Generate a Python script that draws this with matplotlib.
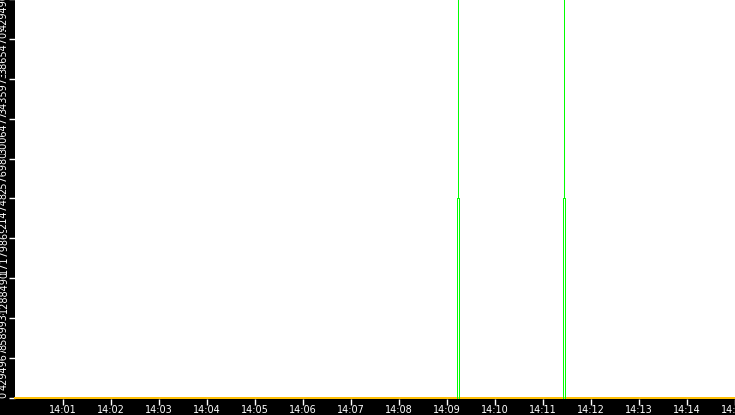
import datetime as dt

import numpy as np
import matplotlib
matplotlib.use('Agg')
import matplotlib.pyplot as plt
import matplotlib.dates as mdates

# candles (hollow green)
times = [dt.datetime(2024, 1, 1, 14, 9, 14), dt.datetime(2024, 1, 1, 14, 11, 26)]
opens = [0, 0]
closes = [2147483648, 2147483648]
highs = [4294967296, 4294967296]
lows = [0, 0]

# orange base line
base_times = [dt.datetime(2024, 1, 1, 14, 0, 0), dt.datetime(2024, 1, 1, 14, 15, 0)]
base_values = [0, 0]

x_ticks = [dt.datetime(2024, 1, 1, 14, m, 0) for m in range(1, 16)]

y_ticks = [0, 429496729.6, 858993459.2, 1288490188.8, 1717986918.4, 2147483648,
           2576980377.6, 3006477107.2, 3435973836.8, 3865470566.4, 4294967296]
y_labels = ['0', '429496729.6', '858993459.2', '1288490188.8', '1717986918.4', '2147483648',
            '2576980377.6', '3006477107.2', '3435973836.8', '3865470566.4', '4294967296']

W, H = 735, 415
fig = plt.figure(figsize=(W / 100, H / 100), dpi=100, facecolor='black')
ax = fig.add_axes([15 / W, 16 / H, 720 / W, 400 / H])
ax.set_facecolor('white')
for s in ax.spines.values():
    s.set_visible(False)

ax.plot(base_times, base_values, color='#ffbf00', lw=1.4, zorder=2, clip_on=False)

x = mdates.date2num(times)
# one pixel = 1/48 minute on this axis
px = 1.25 / 86400.0
lw1 = 0.72  # one pixel at 100 dpi
green = '#00ff00'
for xi, o, c, h, l in zip(x, opens, closes, highs, lows):
    lo, hi = min(o, c), max(o, c)
    ax.plot([xi, xi], [hi, h], color=green, lw=lw1, zorder=3, snap=True)
    if lo > l:
        ax.plot([xi, xi], [l, lo], color=green, lw=lw1, zorder=3, snap=True)
    # hollow body: two edges with white between
    ax.plot([xi - px, xi - px], [lo, hi], color=green, lw=lw1, zorder=4, snap=True)
    ax.plot([xi + px, xi + px], [lo, hi], color=green, lw=lw1, zorder=4, snap=True)

ax.set_xlim(mdates.date2num(base_times[0]), mdates.date2num(base_times[1]))
ax.set_ylim(-12000000, 4294967296)

ax.set_xticks(mdates.date2num(x_ticks))
ax.xaxis.set_major_formatter(mdates.DateFormatter('%H:%M'))
ax.tick_params(axis='x', colors='white', length=4, width=1, pad=0.5, labelsize=7)

ax.set_yticks(y_ticks)
ax.set_yticklabels(y_labels)
ax.tick_params(axis='y', colors='white', length=4, width=1, pad=0.5, labelsize=7)
for i, lbl in enumerate(ax.get_yticklabels()):
    lbl.set_rotation(90)
    lbl.set_va('bottom' if i == 0 else 'center')
    lbl.set_bbox(dict(facecolor='black', edgecolor='none', pad=0.3))

fig.savefig('out.png', dpi=100, facecolor='black')
